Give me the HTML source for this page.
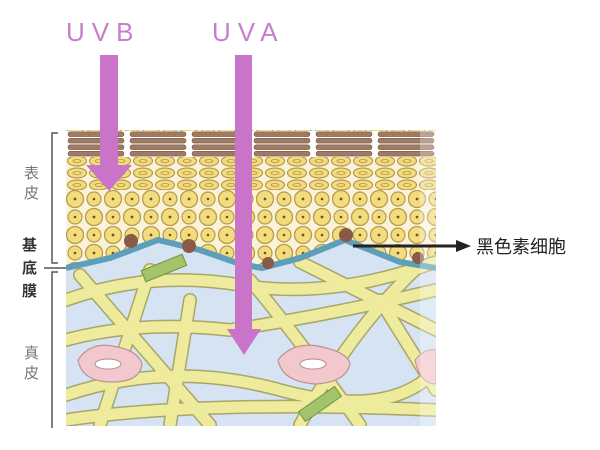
<!DOCTYPE html>
<html><head><meta charset="utf-8"><style>
html,body{margin:0;padding:0;background:#fff;width:600px;height:450px;overflow:hidden}
svg{display:block}
text{font-family:"Liberation Sans","Noto Sans CJK SC",sans-serif}
</style></head><body>
<svg width="600" height="450" viewBox="0 0 600 450" xmlns="http://www.w3.org/2000/svg">
<defs>
<pattern id="cells" x="66" y="190" width="38" height="36" patternUnits="userSpaceOnUse">
<rect width="38" height="36" fill="#fbf3d8"/>
<circle cx="9" cy="9" r="8.5" fill="#f3dc7c" stroke="#b89a50" stroke-width="1.3"/>
<circle cx="9" cy="9" r="1.4" fill="#6b5230"/>
<circle cx="28" cy="27" r="8.5" fill="#f3dc7c" stroke="#b89a50" stroke-width="1.3"/>
<circle cx="28" cy="27" r="1.4" fill="#6b5230"/>
<circle cx="28" cy="9" r="7" fill="#f3dc7c" stroke="#b89a50" stroke-width="1.2"/>
<circle cx="28" cy="9" r="1.3" fill="#6b5230"/>
<circle cx="9" cy="27" r="7" fill="#f3dc7c" stroke="#b89a50" stroke-width="1.2"/>
<circle cx="9" cy="27" r="1.3" fill="#6b5230"/>
</pattern>
<pattern id="flat" x="66" y="155" width="22" height="12" patternUnits="userSpaceOnUse">
<rect width="22" height="12" fill="#fbf3d8"/>
<ellipse cx="11" cy="6" rx="9.5" ry="5" fill="#f3dc7c" stroke="#b89a50" stroke-width="1.2"/>
<ellipse cx="11" cy="6" rx="4" ry="1.5" fill="none" stroke="#b89a50" stroke-width="0.8"/>
</pattern>
<pattern id="horn" x="66" y="131" width="62" height="6.5" patternUnits="userSpaceOnUse">
<rect width="62" height="6.5" fill="#fff"/>
<rect x="2" y="0.8" width="56" height="4.8" rx="2.4" fill="#a07a62" stroke="#7a5a48" stroke-width="0.6"/>
</pattern>
<clipPath id="img"><rect x="66" y="130" width="370" height="296"/></clipPath>
</defs>

<g clip-path="url(#img)">
<rect x="66" y="130" width="370" height="296" fill="#d5e3f2"/>
<path d="M66 130 H436 V268 L400 262 L345 240 L300 258 L262 268 L240 264 L200 250 L158 240 L110 258 L66 268 Z" fill="url(#cells)"/>
<rect x="66" y="154" width="370" height="36" fill="url(#flat)"/>
<rect x="66" y="131" width="370" height="26" fill="url(#horn)"/>
<g fill="none" stroke-linecap="round">
<g stroke="#a9a66a" stroke-width="14">
<path d="M66 300 Q150 270 240 285 T436 262"/>
<path d="M66 340 Q140 320 230 330 Q330 315 436 290"/>
<path d="M66 395 Q170 360 280 390 T436 370"/>
<path d="M80 275 L210 425"/>
<path d="M150 270 L100 425"/>
<path d="M250 280 Q300 340 360 425"/>
<path d="M420 265 Q350 330 300 425"/>
<path d="M300 262 L436 330"/>
<path d="M66 420 Q200 400 436 410"/>
<path d="M190 300 L170 425"/>
<path d="M380 300 L436 390"/>
</g>
<g stroke="#eeeb9c" stroke-width="11">
<path d="M66 300 Q150 270 240 285 T436 262"/>
<path d="M66 340 Q140 320 230 330 Q330 315 436 290"/>
<path d="M66 395 Q170 360 280 390 T436 370"/>
<path d="M80 275 L210 425"/>
<path d="M150 270 L100 425"/>
<path d="M250 280 Q300 340 360 425"/>
<path d="M420 265 Q350 330 300 425"/>
<path d="M300 262 L436 330"/>
<path d="M66 420 Q200 400 436 410"/>
<path d="M190 300 L170 425"/>
<path d="M380 300 L436 390"/>
</g>
</g>
<rect x="142" y="262" width="44" height="12" fill="#a3c46a" stroke="#6f9440" transform="rotate(-22 164 268)"/>
<rect x="298" y="398" width="44" height="12" fill="#a3c46a" stroke="#6f9440" transform="rotate(-35 320 404)"/>
<path d="M78 360 Q90 342 112 346 Q138 350 142 364 Q140 382 112 382 Q82 382 78 360Z" fill="#f2c8cc" stroke="#c09098" stroke-width="1.2"/>
<ellipse cx="108" cy="364" rx="13" ry="5" fill="#fff" stroke="#b08890"/>
<path d="M278 360 Q292 342 318 346 Q348 352 350 364 Q346 382 316 384 Q282 382 278 360Z" fill="#f2c8cc" stroke="#c09098" stroke-width="1.2"/>
<ellipse cx="313" cy="364" rx="13" ry="5" fill="#fff" stroke="#b08890"/>
<path d="M415 360 Q425 348 436 350 V384 Q420 384 415 360Z" fill="#f2c8cc" stroke="#c09098"/>
<path d="M66 268 L110 258 L158 240 L200 250 L240 264 L262 268 L300 258 L345 240 L400 262 L436 268" fill="none" stroke="#5d9fba" stroke-width="6"/>
<circle cx="131" cy="241" r="7" fill="#8a5a48"/>
<circle cx="189" cy="246" r="7" fill="#8a5a48"/>
<circle cx="346" cy="235" r="7" fill="#8a5a48"/>
<circle cx="268" cy="263" r="6" fill="#8a5a48"/>
<circle cx="418" cy="258" r="6" fill="#8a5a48"/>
</g>
<rect x="420" y="130" width="16" height="296" fill="#fff" opacity="0.3"/>

<g stroke="#555" stroke-width="1.5" fill="none">
<path d="M58 133 H52 V263 H58"/>
<path d="M58 272 H52 V428"/>
<path d="M44 268 H66"/>
</g>
<g font-size="15" fill="#777">
<text x="24" y="178">表</text><text x="24" y="198">皮</text>
<text x="24" y="358">真</text><text x="24" y="378">皮</text>
</g>
<g font-size="15" fill="#333" font-weight="bold">
<text x="22" y="250">基</text><text x="22" y="273">底</text><text x="22" y="296">膜</text>
</g>

<text x="66" y="41" font-size="26" fill="#c57fcb" letter-spacing="7">UVB</text>
<text x="212" y="41" font-size="26" fill="#c57fcb" letter-spacing="7">UVA</text>
<rect x="100" y="55" width="18" height="112" fill="#c974c9"/>
<polygon points="86,165 132,165 109,191" fill="#c974c9"/>
<rect x="235" y="55" width="17" height="276" fill="#c974c9"/>
<polygon points="227,329 261,329 244,355" fill="#c974c9"/>

<line x1="353" y1="246" x2="458" y2="246" stroke="#222" stroke-width="3"/>
<polygon points="456,240 471,246 456,252" fill="#222"/>
<text x="476" y="253" font-size="18" fill="#222">黑色素细胞</text>
</svg>
</body></html>
